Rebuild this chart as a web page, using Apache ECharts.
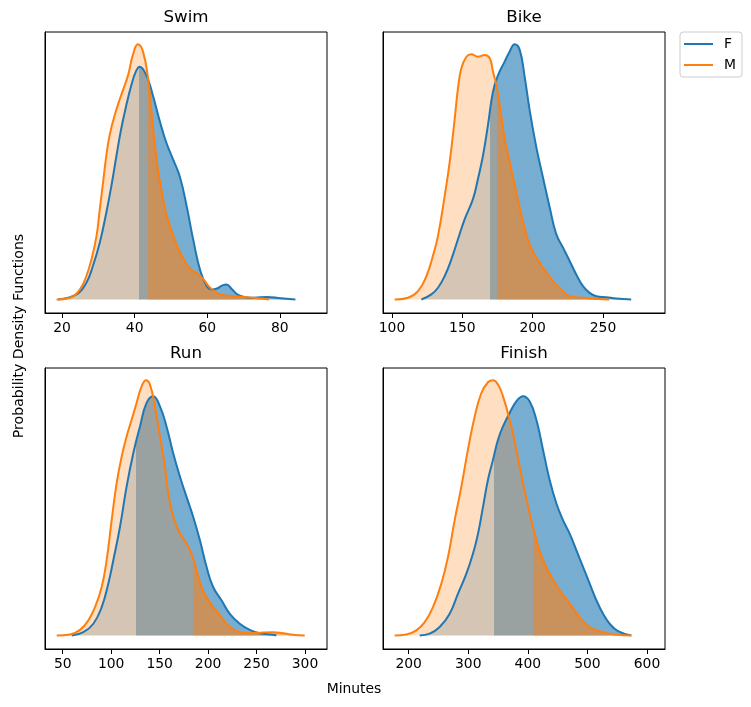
<!DOCTYPE html>
<html>
<head>
<meta charset="utf-8">
<script src="https://cdn.jsdelivr.net/npm/echarts@6/dist/echarts.min.js"></script>
<style>
html,body{margin:0;padding:0;background:#fff;}
#chart{width:751px;height:707px;}
</style>
</head>
<body>
<div id="chart"></div>
<script>
// ---------------- data ----------------
// y values are relative density heights (tallest curve of each panel = 100)
const panelTitles = ['Swim', 'Bike', 'Run', 'Finish'];
const seriesNames = ['F', 'M'];

const swimF = [[18.9,0],[24.0,2.0],[26.7,6.6],[28.5,13.1],[30.4,22.3],[32.2,34.1],[33.6,44.6],[35.0,56.4],[36.3,66.9],[37.7,76.1],[39.1,84.0],[40.3,89.2],[41.4,91.2],[43.2,87.9],[45.0,80.1],[46.9,70],[48.6,62],[50.7,54.5],[52.5,47.9],[54.4,36.1],[56.2,23],[58.1,11.2],[59.9,5.2],[61.3,3.9],[62.7,4.3],[64.0,5.4],[65.3,5.9],[66.8,4.0],[68.5,1.8],[70.5,0.9],[72.8,0.7],[76.5,1.0],[80.2,0.5],[84.3,0]];
const swimM = [[18.5,0],[22.1,0.7],[24.9,3.9],[26.7,9.2],[28.1,15.7],[29.5,24.9],[30.4,35.4],[31.3,45.9],[32.2,56.4],[33.1,64.3],[34.5,72.2],[36.3,80.1],[38.2,87.9],[39.5,95.8],[40.9,100],[42.3,97.1],[43.7,86.6],[45.0,68.2],[46.4,51.2],[47.5,42],[48.6,34],[50.4,26],[52.5,18.5],[55.0,12.5],[57.6,9.8],[59.0,7.9],[60.8,4.6],[63.6,2.0],[67.3,1.3],[71.0,0.9],[74.0,0.5],[77.0,0]];

const bikeF = [[120.9,0],[128.0,2.0],[132.7,4.6],[137.5,9.2],[142.2,15.7],[146.9,23.6],[151.7,31.5],[157.6,39.4],[161.1,47.2],[164.7,56.4],[168.2,68.2],[171.8,81.4],[175.4,87.9],[180.1,93.2],[183.6,97.1],[187.2,100],[190.8,97.8],[194.3,87.3],[197.9,74.1],[202.6,59.7],[207.3,47.9],[212.1,36.1],[216.8,25.6],[221.6,20.3],[226.3,15.1],[231.0,9.8],[235.8,5.2],[240.5,2.6],[245.3,1.3],[252.4,0.9],[259.5,0.4],[270.1,0]];
const bikeM = [[101.9,0],[111.4,0.7],[118.5,3.3],[124.5,9.2],[129.1,17.1],[132.7,24.9],[137.5,40.7],[141.0,53.8],[144.6,70.9],[146.9,82.7],[149.3,90.6],[152.9,95.1],[156.4,96.1],[161.1,95.1],[165.9,95.8],[169.5,94.5],[171.8,89.2],[174.2,84],[177.3,73.5],[180.1,63],[183.6,54],[187.2,45.1],[190.8,36],[194.3,28],[197.9,21.5],[202.6,16.4],[207.3,12.5],[214.5,7.2],[221.6,3.3],[226.3,1.3],[235.8,0.7],[245.3,0.3],[254.3,0]];

const runF = [[59.3,0],[71.3,1.3],[81.6,4.6],[90.2,11.1],[97.0,20.3],[102.2,29.5],[109.1,42.6],[115.9,58.3],[122.8,71.4],[129.7,81.9],[136.5,91.1],[143.4,93.7],[150.3,89.8],[157.1,81.9],[164.0,71.4],[170.9,62.3],[177.7,54.4],[184.6,46.5],[191.5,37.4],[198.4,26.9],[205.2,19.0],[213.8,13.8],[222.4,8.5],[232.7,4.6],[243.0,2.2],[253.3,0.9],[267.0,0.3],[270.5,0]];
const runM = [[43.8,0],[57.6,0.4],[67.9,2.2],[76.4,5.9],[83.3,11.1],[90.2,19.0],[95.3,29.5],[100.5,45.2],[105.6,59.6],[110.8,70.1],[115.9,78.0],[121.1,84.5],[126.2,91.1],[131.4,97.6],[135.9,100],[140.0,98.3],[145.1,89.8],[150.3,78.0],[155.4,66.2],[158.9,55.7],[164.0,46.5],[170.9,40.0],[177.7,36.0],[182.9,32.1],[188.0,25.6],[193.2,19.0],[198.4,15.1],[205.2,11.1],[213.8,7.2],[222.4,3.3],[232.7,1.3],[243.0,0.9],[256.7,1.2],[267.0,1.3],[277.3,0.9],[287.6,0.3],[299.7,0]];

const finishF = [[218.5,0],[235.2,0.7],[252.0,3.3],[268.8,8.5],[282.8,16.4],[296.8,24.2],[308.0,32.1],[316.4,39.9],[324.8,50.5],[333.1,61.0],[341.5,68.8],[349.9,76.7],[358.3,81.9],[369.5,87.2],[380.7,91.7],[391.9,93.7],[403.1,91.7],[414.3,84.5],[425.5,72.7],[436.6,60.9],[447.8,51.8],[459.0,45.2],[470.2,39.9],[481.4,33.4],[492.6,26.9],[503.8,20.3],[515.0,13.8],[526.2,8.5],[537.3,4.6],[551.3,1.7],[573.7,0]];
const finishM = [[176.5,0],[196.1,0.4],[212.9,2.0],[226.9,5.2],[240.8,11.1],[254.8,20.3],[266.0,30.8],[277.2,45.2],[288.4,58.3],[299.4,72.7],[310.8,85.8],[322.0,95.0],[333.1,99.2],[341.5,100],[349.9,98.3],[358.3,93.7],[369.5,84.5],[380.7,72.7],[391.9,59.6],[403.1,47.8],[414.3,37.4],[425.5,29.5],[439.4,23.0],[453.4,17.7],[470.2,12.5],[487.0,7.2],[503.8,3.3],[526.2,1.3],[548.5,0.4],[573.7,0]];

// shading thresholds (fill becomes darker to the right of these x values)
const fThreshold = [41.1, 169.7, 125.9, 343.8];
const mThreshold = [43.6, 174.9, 184.6, 409.2];

// tick labels
const swimTicks = [20, 40, 60, 80];
const bikeTicks = [100, 150, 200, 250];
const runTicks = [50, 100, 150, 200, 250, 300];
const finishTicks = [200, 300, 400, 500, 600];

// ---------------- layout / style ----------------
const fData = [swimF, bikeF, runF, finishF];
const mData = [swimM, bikeM, runM, finishM];
const ticks = [swimTicks, bikeTicks, runTicks, finishTicks];
const xRanges = [[15.3, 93.0], [93.6, 294.1], [31.7, 322.7], [156.9, 630.2]];
const gridPos = [[45, 32], [383, 32], [45, 368], [383, 368]];
const GW = 282, GH = 281;
const BLUE = '#1f77b4', ORANGE = '#ff7f0e';
const FONT = 'DejaVu Sans';
const SMOOTH = 0.45;

const grids = [], xAxes = [], yAxes = [], series = [], visualMaps = [], graphics = [];

for (let i = 0; i < 4; i++) {
  const lo = xRanges[i][0], hi = xRanges[i][1];
  grids.push({ left: gridPos[i][0], top: gridPos[i][1], width: GW, height: GH,
    show: true, borderColor: '#000', borderWidth: 1, backgroundColor: 'transparent' });
  xAxes.push({
    type: 'value', gridIndex: i, min: lo, max: hi,
    splitLine: { show: false },
    axisLine: { show: true, onZero: false, lineStyle: { color: '#000', width: 1 } },
    axisTick: { show: true, length: 5, inside: false, customValues: ticks[i], lineStyle: { color: '#000', width: 1 } },
    axisLabel: { show: true, customValues: ticks[i], margin: 8, color: '#000', fontSize: 13.9, fontFamily: FONT }
  });
  const allY = fData[i].concat(mData[i]).map(p => p[1]);
  const yMax = Math.max.apply(null, allY);
  yAxes.push({
    type: 'value', gridIndex: i, min: -0.053 * yMax, max: 1.048 * yMax,
    splitLine: { show: false }, axisTick: { show: false }, axisLabel: { show: false },
    axisLine: { show: true, onZero: false, lineStyle: { color: '#000', width: 1 } }
  });
  const base = series.length;
  // fills
  series.push({ type: 'line', name: 'F fill', xAxisIndex: i, yAxisIndex: i, data: fData[i],
    smooth: SMOOTH, symbol: 'none', silent: true, z: 1,
    lineStyle: { width: 0, opacity: 0 }, areaStyle: { opacity: 1 } });
  series.push({ type: 'line', name: 'M fill', xAxisIndex: i, yAxisIndex: i, data: mData[i],
    smooth: SMOOTH, symbol: 'none', silent: true, z: 2,
    lineStyle: { width: 0, opacity: 0 }, areaStyle: { opacity: 1 } });
  visualMaps.push({ type: 'piecewise', show: false, dimension: 0, seriesIndex: base,
    pieces: [{ gte: lo, lt: fThreshold[i], color: 'rgba(31,119,180,0.25)' },
             { gte: fThreshold[i], lte: hi, color: 'rgba(31,119,180,0.6)' }] });
  visualMaps.push({ type: 'piecewise', show: false, dimension: 0, seriesIndex: base + 1,
    pieces: [{ gte: lo, lt: mThreshold[i], color: 'rgba(255,127,14,0.25)' },
             { gte: mThreshold[i], lte: hi, color: 'rgba(255,127,14,0.6)' }] });
  // lines
  series.push({ type: 'line', name: seriesNames[0], xAxisIndex: i, yAxisIndex: i, data: fData[i],
    smooth: SMOOTH, symbol: 'none', z: 3, color: BLUE, itemStyle: { color: BLUE },
    lineStyle: { color: BLUE, width: 2 } });
  series.push({ type: 'line', name: seriesNames[1], xAxisIndex: i, yAxisIndex: i, data: mData[i],
    smooth: SMOOTH, symbol: 'none', z: 4, color: ORANGE, itemStyle: { color: ORANGE },
    lineStyle: { color: ORANGE, width: 2 } });
  // subplot title
  graphics.push({ type: 'text', x: gridPos[i][0] + GW / 2, y: gridPos[i][1] - 14,
    style: { text: panelTitles[i], font: '16.7px "DejaVu Sans"', fill: '#000',
      align: 'center', verticalAlign: 'middle', textAlign: 'center', textVerticalAlign: 'middle' } });
}

graphics.push({ type: 'text', x: 354, y: 689,
  style: { text: 'Minutes', font: '13.9px "DejaVu Sans"', fill: '#000',
    align: 'center', verticalAlign: 'middle', textAlign: 'center', textVerticalAlign: 'middle' } });
graphics.push({ type: 'text', x: 19, y: 336, rotation: Math.PI / 2,
  style: { text: 'Probability Density Functions', font: '14.1px "DejaVu Sans"', fill: '#000',
    align: 'center', verticalAlign: 'middle', textAlign: 'center', textVerticalAlign: 'middle' } });

const chart = echarts.init(document.getElementById('chart'), null, { renderer: 'canvas' });
chart.setOption({
  animation: false,
  backgroundColor: '#fff',
  grid: grids,
  xAxis: xAxes,
  yAxis: yAxes,
  visualMap: visualMaps,
  legend: {
    data: seriesNames, orient: 'vertical', left: 680, top: 32,
    icon: 'rect', itemWidth: 29, itemHeight: 2, itemGap: 7,
    padding: [5, 6, 5, 4], borderColor: '#cccccc', borderWidth: 1, borderRadius: 3,
    backgroundColor: 'rgba(255,255,255,0.8)',
    textStyle: { color: '#000', fontSize: 13.9, fontFamily: FONT, padding: [0, 0, 0, 6] },
    selectedMode: false
  },
  graphic: graphics,
  series: series
});
</script>
</body>
</html>
